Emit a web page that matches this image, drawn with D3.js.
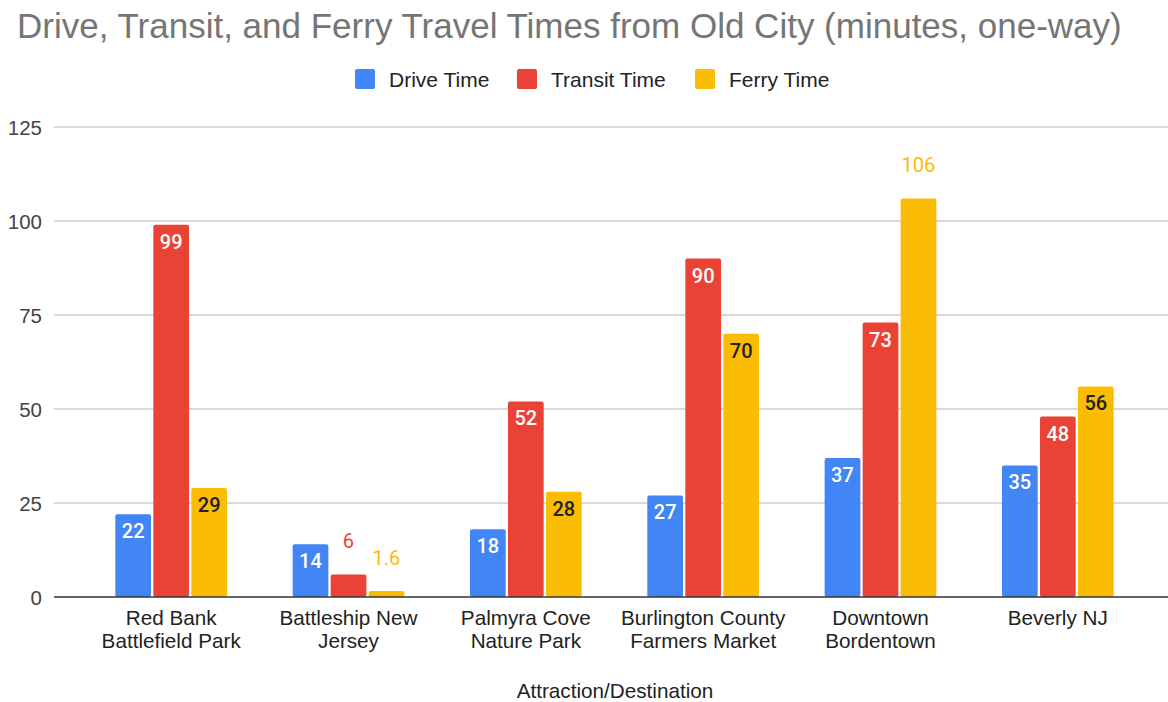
<!DOCTYPE html>
<html>
<head>
<meta charset="utf-8">
<script src="https://cdn.jsdelivr.net/npm/d3@7"></script>
<style>
  html, body { margin: 0; padding: 0; background: #fff; }
  svg { display: block; }
</style>
</head>
<body>
<svg id="chart" width="1168" height="702"></svg>
<script>
// Travel times in minutes, one-way, from Old City
const categories = [
  ["Red Bank", "Battlefield Park"],
  ["Battleship New", "Jersey"],
  ["Palmyra Cove", "Nature Park"],
  ["Burlington County", "Farmers Market"],
  ["Downtown", "Bordentown"],
  ["Beverly NJ"]
];
const seriesNames = ["Drive Time", "Transit Time", "Ferry Time"];
const driveTime = [22, 14, 18, 27, 37, 35];
const transitTime = [99, 6, 52, 90, 73, 48];
const ferryTime = [29, 1.6, 28, 70, 106, 56];
const yTicks = [0, 25, 50, 75, 100, 125];

const colors = ["#4285F4", "#EA4335", "#FBBC04"];
const insideText = ["#ffffff", "#ffffff", "#202124"];
const seriesValues = [driveTime, transitTime, ferryTime];

const SANS = "'Liberation Sans', Arial, sans-serif";
const ROBOTO = "Roboto, Arial, sans-serif";

const svg = d3.select("#chart");
const W = 1168;

const x0 = d3.scaleBand()
  .domain(d3.range(categories.length))
  .range([82.5, 1146.5])
  .paddingInner(0.37)
  .paddingOuter(0.185);
const x1 = d3.scaleBand()
  .domain(d3.range(seriesNames.length))
  .range([0, x0.bandwidth()])
  .paddingInner(0.06);
const y = d3.scaleLinear().domain([0, 125]).range([597, 127]);

// Title
svg.append("text")
  .attr("x", 17).attr("y", 37.5)
  .attr("font-family", SANS)
  .attr("font-size", 35)
  .attr("fill", "#757575")
  .text("Drive, Transit, and Ferry Travel Times from Old City (minutes, one-way)");

// Legend
const legendX = [355, 517, 695];
const legend = svg.append("g");
seriesNames.forEach((name, i) => {
  legend.append("rect")
    .attr("x", legendX[i]).attr("y", 69)
    .attr("width", 20).attr("height", 20).attr("rx", 2)
    .attr("fill", colors[i]);
  legend.append("text")
    .attr("x", legendX[i] + 34).attr("y", 86.5)
    .attr("font-family", SANS)
    .attr("font-size", 21)
    .attr("fill", "#222")
    .text(name);
});

// Gridlines and y labels
const yAxis = d3.axisLeft(y).tickValues(yTicks).tickSize(0).tickPadding(0);
const yg = svg.append("g").attr("transform", "translate(42,0)").call(yAxis);
yg.select(".domain").remove();
yg.selectAll("text")
  .attr("font-family", SANS)
  .attr("font-size", 20.5)
  .attr("fill", "#444")
  .attr("dy", "0.35em");

svg.append("g").selectAll("line")
  .data(yTicks.filter(t => t !== 0))
  .join("line")
  .attr("x1", 54).attr("x2", W)
  .attr("y1", d => y(d)).attr("y2", d => y(d))
  .attr("stroke", "#cccccc").attr("stroke-width", 1.3);

// Bars
const groups = svg.append("g").selectAll("g")
  .data(categories.map((c, i) => i))
  .join("g")
  .attr("transform", i => `translate(${x0(i)},0)`);

groups.each(function(ci) {
  const g = d3.select(this);
  seriesValues.forEach((vals, si) => {
    const v = vals[ci];
    g.append("rect")
      .attr("x", x1(si))
      .attr("y", y(v))
      .attr("width", x1.bandwidth())
      .attr("height", y(0) - y(v))
      .attr("rx", 2)
      .attr("fill", colors[si]);
  });
});

// Value labels: inside the bar top when it fits, otherwise above in the series colour
groups.each(function(ci) {
  const g = d3.select(this);
  seriesValues.forEach((vals, si) => {
    const v = vals[ci];
    const inside = v >= 10 && v <= 100;
    g.append("text")
      .attr("x", x1(si) + x1.bandwidth() / 2)
      .attr("y", inside ? y(v) + 24 : y(v) - 26)
      .attr("text-anchor", "middle")
      .attr("font-family", ROBOTO)
      .attr("font-size", 20)
      .attr("font-weight", inside ? 500 : 400)
      .attr("fill", inside ? insideText[si] : colors[si])
      .text(v);
  });
});

// Baseline
svg.append("line")
  .attr("x1", 54).attr("x2", W)
  .attr("y1", y(0)).attr("y2", y(0))
  .attr("stroke", "#333").attr("stroke-width", 1.5);

// Category labels
const xAxis = svg.append("g");
categories.forEach((lines, i) => {
  const cx = x0(i) + x0.bandwidth() / 2;
  const t = xAxis.append("text")
    .attr("x", cx)
    .attr("y", 625)
    .attr("text-anchor", "middle")
    .attr("font-family", SANS)
    .attr("font-size", 20.7)
    .attr("fill", "#222");
  lines.forEach((ln, k) => {
    t.append("tspan")
      .attr("x", cx)
      .attr("dy", k === 0 ? 0 : 22.5)
      .text(ln);
  });
});

// Axis title
svg.append("text")
  .attr("x", 615).attr("y", 698)
  .attr("text-anchor", "middle")
  .attr("font-family", SANS)
  .attr("font-size", 20.7)
  .attr("fill", "#222")
  .text("Attraction/Destination");
</script>
</body>
</html>
